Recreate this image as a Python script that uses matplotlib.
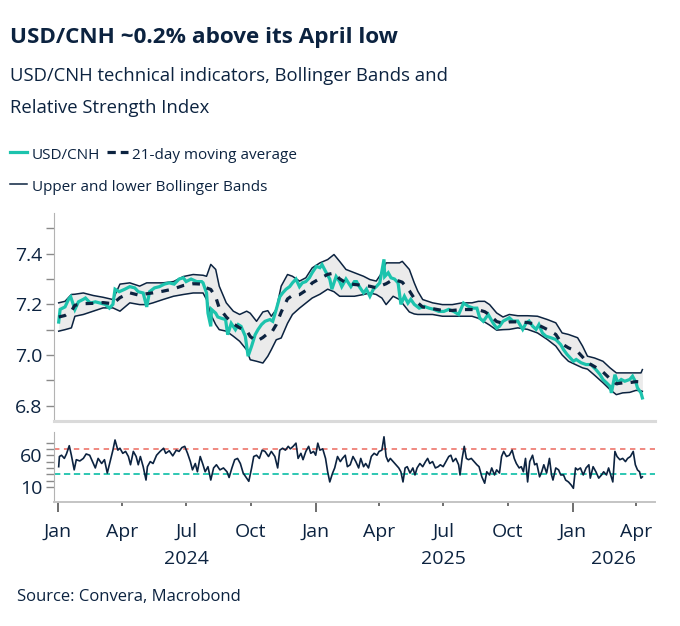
import matplotlib
matplotlib.use('Agg')
import matplotlib.pyplot as plt
import matplotlib.dates as mdates
import matplotlib.transforms as mtransforms
from matplotlib.lines import Line2D
import numpy as np
import pandas as pd

plt.rcParams['font.family'] = ['Open Sans', 'DejaVu Sans']

# ---- data ----
price_dates = [
    '2024-01-02', '2024-01-04', '2024-01-11', '2024-01-16', '2024-01-19', '2024-01-25', '2024-01-30',
    '2024-02-06', '2024-02-09', '2024-02-16', '2024-02-23', '2024-03-01', '2024-03-08', '2024-03-14',
    '2024-03-19', '2024-03-22', '2024-03-28', '2024-04-05', '2024-04-12', '2024-04-19', '2024-04-24',
    '2024-05-01', '2024-05-06', '2024-05-10', '2024-05-17', '2024-05-24', '2024-05-31', '2024-06-07',
    '2024-06-14', '2024-06-21', '2024-06-27', '2024-07-01', '2024-07-08', '2024-07-16', '2024-07-23',
    '2024-07-25', '2024-07-30', '2024-08-01', '2024-08-05', '2024-08-06', '2024-08-12', '2024-08-15',
    '2024-08-20', '2024-08-26', '2024-08-29', '2024-09-03', '2024-09-09', '2024-09-13', '2024-09-17',
    '2024-09-23', '2024-09-27', '2024-10-02', '2024-10-07', '2024-10-11', '2024-10-16', '2024-10-21',
    '2024-10-28', '2024-11-01', '2024-11-06', '2024-11-11', '2024-11-15', '2024-11-20', '2024-11-25',
    '2024-11-29', '2024-12-04', '2024-12-09', '2024-12-13', '2024-12-18', '2024-12-23', '2024-12-27',
    '2025-01-02', '2025-01-07', '2025-01-10', '2025-01-16', '2025-01-21', '2025-01-24', '2025-01-30',
    '2025-02-04', '2025-02-07', '2025-02-13', '2025-02-20', '2025-02-25', '2025-02-28', '2025-03-04',
    '2025-03-10', '2025-03-14', '2025-03-19', '2025-03-24', '2025-03-28', '2025-04-02', '2025-04-08',
    '2025-04-09', '2025-04-14', '2025-04-18', '2025-04-23', '2025-04-28', '2025-05-02', '2025-05-07',
    '2025-05-12', '2025-05-16', '2025-05-21', '2025-05-28', '2025-06-04', '2025-06-11', '2025-06-18',
    '2025-06-25', '2025-07-02', '2025-07-09', '2025-07-16', '2025-07-23', '2025-07-30', '2025-08-06',
    '2025-08-13', '2025-08-18', '2025-08-22', '2025-08-27', '2025-09-03', '2025-09-10', '2025-09-15',
    '2025-09-19', '2025-09-24', '2025-10-03', '2025-10-08', '2025-10-15', '2025-10-22', '2025-10-27',
    '2025-10-31', '2025-11-05', '2025-11-10', '2025-11-14', '2025-11-19', '2025-11-24', '2025-12-01',
    '2025-12-08', '2025-12-15', '2025-12-19', '2025-12-24', '2026-01-02', '2026-01-06', '2026-01-13',
    '2026-01-20', '2026-01-27', '2026-02-03', '2026-02-09', '2026-02-13', '2026-02-18', '2026-02-23',
    '2026-02-25', '2026-03-02', '2026-03-06', '2026-03-11', '2026-03-16', '2026-03-23', '2026-03-27',
    '2026-04-01', '2026-04-03', '2026-04-08', '2026-04-10',
]
usdcnh = [
    7.130, 7.180, 7.190, 7.220, 7.230, 7.180, 7.210,
    7.220, 7.225, 7.205, 7.210, 7.205, 7.200, 7.185,
    7.200, 7.260, 7.250, 7.260, 7.270, 7.265, 7.250,
    7.245, 7.190, 7.250, 7.265, 7.270, 7.280, 7.285,
    7.280, 7.300, 7.305, 7.290, 7.300, 7.290, 7.290,
    7.285, 7.245, 7.165, 7.113, 7.180, 7.165, 7.150,
    7.145, 7.140, 7.080, 7.125, 7.100, 7.120, 7.113,
    7.074, 6.995, 7.035, 7.080, 7.100, 7.120, 7.133,
    7.140, 7.133, 7.180, 7.230, 7.245, 7.260, 7.270,
    7.285, 7.300, 7.270, 7.285, 7.290, 7.305, 7.325,
    7.350, 7.345, 7.357, 7.325, 7.300, 7.260, 7.310,
    7.290, 7.270, 7.300, 7.270, 7.290, 7.290, 7.270,
    7.245, 7.260, 7.232, 7.260, 7.270, 7.285, 7.378,
    7.310, 7.325, 7.305, 7.300, 7.285, 7.200, 7.232,
    7.205, 7.220, 7.200, 7.185, 7.192, 7.185, 7.180,
    7.172, 7.172, 7.180, 7.172, 7.160, 7.205, 7.192,
    7.185, 7.185, 7.146, 7.133, 7.160, 7.126, 7.106,
    7.113, 7.133, 7.147, 7.134, 7.134, 7.101, 7.127,
    7.134, 7.114, 7.101, 7.120, 7.087, 7.074, 7.068,
    7.061, 7.041, 7.021, 7.002, 6.975, 6.982, 6.969,
    6.962, 6.962, 6.942, 6.922, 6.903, 6.890, 6.876,
    6.850, 6.922, 6.890, 6.903, 6.896, 6.903, 6.916,
    6.890, 6.870, 6.850, 6.830,
]

band_dates = [
    '2024-01-02', '2024-01-11', '2024-01-20', '2024-01-25', '2024-02-06', '2024-02-20', '2024-03-05',
    '2024-03-19', '2024-03-29', '2024-04-12', '2024-04-26', '2024-05-06', '2024-05-15', '2024-05-29',
    '2024-06-13', '2024-06-27', '2024-07-11', '2024-07-25', '2024-07-30', '2024-08-05', '2024-08-12',
    '2024-08-17', '2024-08-27', '2024-09-06', '2024-09-15', '2024-09-25', '2024-09-30', '2024-10-09',
    '2024-10-18', '2024-10-25', '2024-10-30', '2024-11-06', '2024-11-13', '2024-11-22', '2024-11-29',
    '2024-12-09', '2024-12-18', '2024-12-27', '2025-01-07', '2025-01-18', '2025-01-27', '2025-02-04',
    '2025-02-13', '2025-02-25', '2025-03-10', '2025-03-19', '2025-03-28', '2025-04-05', '2025-04-11',
    '2025-04-21', '2025-04-30', '2025-05-04', '2025-05-14', '2025-05-21', '2025-05-26', '2025-06-02',
    '2025-06-16', '2025-06-30', '2025-07-14', '2025-07-28', '2025-08-11', '2025-08-20', '2025-08-29',
    '2025-09-05', '2025-09-15', '2025-09-24', '2025-10-03', '2025-10-15', '2025-10-29', '2025-11-12',
    '2025-11-26', '2025-12-08', '2025-12-17', '2025-12-26', '2026-01-08', '2026-01-15', '2026-01-22',
    '2026-02-01', '2026-02-13', '2026-02-23', '2026-03-04', '2026-03-13', '2026-03-23', '2026-04-01',
    '2026-04-08', '2026-04-10',
]
upper_band = [
    7.206, 7.212, 7.239, 7.240, 7.245, 7.235, 7.228,
    7.219, 7.280, 7.285, 7.272, 7.285, 7.285, 7.285,
    7.290, 7.310, 7.318, 7.315, 7.311, 7.358, 7.338,
    7.272, 7.206, 7.173, 7.160, 7.173, 7.165, 7.133,
    7.170, 7.175, 7.153, 7.180, 7.272, 7.318, 7.311,
    7.292, 7.305, 7.344, 7.364, 7.377, 7.397, 7.370,
    7.338, 7.325, 7.311, 7.298, 7.292, 7.325, 7.364,
    7.364, 7.364, 7.370, 7.338, 7.285, 7.252, 7.219,
    7.206, 7.199, 7.199, 7.206, 7.206, 7.212, 7.212,
    7.199, 7.166, 7.150, 7.160, 7.155, 7.155, 7.153,
    7.140, 7.127, 7.087, 7.081, 7.068, 7.035, 6.995,
    6.988, 6.975, 6.949, 6.929, 6.929, 6.929, 6.929,
    6.929, 6.942,
]
lower_band = [
    7.094, 7.100, 7.107, 7.153, 7.160, 7.173, 7.186,
    7.186, 7.173, 7.206, 7.199, 7.199, 7.206, 7.219,
    7.232, 7.239, 7.245, 7.245, 7.219, 7.160, 7.120,
    7.100, 7.094, 7.074, 7.054, 7.020, 6.981, 6.975,
    6.968, 6.995, 7.021, 7.060, 7.067, 7.125, 7.160,
    7.185, 7.205, 7.225, 7.240, 7.260, 7.250, 7.232,
    7.232, 7.232, 7.239, 7.245, 7.239, 7.225, 7.199,
    7.232, 7.219, 7.205, 7.170, 7.162, 7.160, 7.160,
    7.160, 7.153, 7.153, 7.153, 7.153, 7.145, 7.130,
    7.118, 7.098, 7.100, 7.101, 7.107, 7.101, 7.087,
    7.061, 7.035, 7.000, 6.975, 6.958, 6.949, 6.944,
    6.920, 6.890, 6.863, 6.843, 6.850, 6.852, 6.860,
    6.858, 6.856,
]

# RSI observations: days since 2024-01-01
rsi_days = [
    1, 2, 5, 9, 12, 16, 19, 23, 26, 31,
    36, 40, 45, 49, 53, 57, 62, 66, 70, 74,
    78, 81, 85, 88, 92, 96, 100, 103, 107, 111,
    114, 117, 121, 125, 127, 131, 135, 140, 145, 150,
    153, 158, 163, 168, 172, 176, 180, 184, 188, 191,
    195, 198, 202, 206, 209, 213, 217, 221, 225, 230,
    235, 240, 243, 247, 251, 255, 259, 263, 268, 271,
    275, 278, 282, 286, 290, 294, 299, 303, 308, 312,
    315, 319, 323, 327, 330, 334, 338, 341, 345, 348,
    352, 356, 359, 363, 366, 369, 372, 376, 380, 383,
    386, 390, 393, 397, 401, 404, 408, 411,
    415, 419, 423, 427, 430, 434, 437, 441, 445, 449,
    453, 456, 460, 463, 466, 469, 472, 476, 480, 484,
    487, 490, 493, 496, 500, 504, 507, 510, 514, 518,
    522, 525, 528, 532, 536, 540, 543, 547, 551, 555,
    558, 561, 565, 569, 571, 574, 577, 580, 583, 587,
    591, 595, 598, 602, 606, 609, 613, 616, 620, 623,
    627, 630, 633, 637, 641, 645, 648, 651, 655, 658,
    661, 664, 667, 670, 674, 677, 680, 684, 687, 690,
    694, 698, 701, 703, 707, 711, 714, 718, 721, 725,
    729, 732, 735, 738, 742, 746, 750, 754, 756, 760,
    764, 768, 772, 775, 779, 782, 785, 788, 791, 794,
    798, 802, 806, 809, 813, 817, 820, 823, 826, 828,
    830,
]
rsi = [
    42, 58, 60, 55, 62, 75, 60, 37, 53, 51,
    55, 62, 60, 50, 40, 55, 47, 53, 32, 50,
    68, 84, 68, 71, 63, 66, 58, 45, 66, 58,
    45, 58, 42, 21, 42, 50, 47, 60, 66, 71,
    63, 67, 59, 68, 66, 72, 74, 63, 50, 37,
    47, 34, 58, 45, 34, 42, 21, 40, 45, 37,
    40, 34, 25, 40, 53, 55, 47, 32, 24, 19,
    40, 58, 60, 55, 68, 66, 58, 66, 58, 40,
    68, 71, 68, 74, 70, 74, 79, 55, 63, 53,
    66, 74, 63, 66, 60, 79, 68, 70, 55, 34,
    18, 32, 40, 58, 50, 55, 60, 42,
    45, 58, 50, 40, 55, 42, 47, 40, 58, 63,
    60, 66, 68, 89, 58, 50, 55, 50, 45, 40,
    34, 18, 40, 42, 32, 40, 29, 40, 47, 42,
    50, 55, 47, 50, 40, 42, 45, 42, 50, 58,
    60, 50, 55, 45, 29, 55, 74, 55, 53, 55,
    50, 45, 42, 26, 16, 34, 29, 40, 29, 37,
    32, 58, 66, 58, 60, 68, 55, 47, 40, 42,
    34, 55, 18, 50, 60, 45, 47, 26, 34, 45,
    32, 55, 29, 21, 40, 37, 29, 29, 21, 18,
    13, 8, 40, 37, 40, 29, 40, 45, 24, 42,
    34, 24, 29, 34, 29, 40, 29, 18, 66, 58,
    53, 55, 50, 55, 58, 66, 45, 37, 34, 24,
    26,
]
rsi_overbought = 70
rsi_oversold = 30

# ---- styling ----
navy = '#0c2340'
teal = '#1cc3ad'
band_fill = '#ebebeb'
spine_grey = '#b3b3b3'
W, H = 680, 626


def fx(x):
    return x / W


def fy(y):
    return 1 - y / H


price_dates = pd.to_datetime(price_dates)
band_dates = pd.to_datetime(band_dates)
upper_band = np.array(upper_band)
lower_band = np.array(lower_band)
moving_avg = (upper_band + lower_band) / 2
rsi_dates = pd.Timestamp('2024-01-01') + pd.to_timedelta(rsi_days, unit='D')

fig = plt.figure(figsize=(W / 100, H / 100), dpi=100)
ax1 = fig.add_axes([fx(54.3), fy(420.7), fx(655) - fx(54.3), fy(213.3) - fy(420.7)])
ax2 = fig.add_axes([fx(54.3), fy(502.3), fx(655) - fx(54.3), fy(431.7) - fy(502.3)])

x_left = pd.Timestamp('2023-12-26 18:00')
x_right = pd.Timestamp('2026-04-27 22:00')

# top panel: price + Bollinger bands
ax1.fill_between(band_dates, lower_band, upper_band, color=band_fill, lw=0, zorder=1)
ax1.plot(band_dates, upper_band, color=navy, lw=1.1, zorder=2)
ax1.plot(band_dates, lower_band, color=navy, lw=1.1, zorder=2)
ax1.plot(price_dates, usdcnh, color=teal, lw=2.3, zorder=3, solid_joinstyle='miter')
ax1.plot(band_dates, moving_avg, color=navy, lw=2.3, dashes=(2.4, 2.6), zorder=4)

ax1.set_xlim(x_left, x_right)
ax1.set_ylim(6.74, 7.56)
ax1.set_yticks([6.8, 7.0, 7.2, 7.4])
ax1.set_yticks([6.9, 7.1, 7.3, 7.5], minor=True)
ax1.set_yticklabels(['6.8', '7.0', '7.2', '7.4'])
ax1.tick_params(axis='y', which='both', length=5.5, width=1, color='#8a8a8a',
                labelsize=14, labelcolor=navy, pad=3)
ax1.set_xticks([])
for s in ['top', 'right']:
    ax1.spines[s].set_visible(False)
ax1.spines['left'].set_color(spine_grey)
ax1.spines['bottom'].set_color('#dadada')
ax1.spines['bottom'].set_linewidth(2.2)

# bottom panel: RSI
ax2.plot(rsi_dates, rsi, color=navy, lw=1.2, zorder=3)
ax2.axhline(rsi_overbought, color='#ef7f76', lw=1.3, dashes=(3, 2.5), zorder=2)
ax2.axhline(rsi_oversold, color='#1cc3ad', lw=1.3, dashes=(3.5, 2), zorder=2)
ax2.set_xlim(x_left, x_right)
ax2.set_ylim(-14, 97)
ax2.set_yticks([10, 60])
ax2.set_yticks(np.arange(10, 90, 10), minor=True)
ax2.tick_params(axis='y', which='both', length=5.5, width=1, color='#8a8a8a',
                labelsize=14, labelcolor=navy, pad=3)
for s in ['top', 'right']:
    ax2.spines[s].set_visible(False)
ax2.spines['left'].set_color(spine_grey)
ax2.spines['bottom'].set_color('#c4c4c4')
ax2.spines['bottom'].set_linewidth(1.4)

quarters = pd.date_range('2024-01-01', '2026-04-01', freq='QS')
ax2.set_xticks(quarters)
ax2.set_xticklabels([d.strftime('%b') for d in quarters])
ax2.tick_params(axis='x', length=3, width=1.2, color='#555555', labelsize=14,
                labelcolor=navy, pad=12)
for t, d in zip(ax2.xaxis.get_major_ticks(), quarters):
    if d.month == 1:
        t.tick1line.set_markersize(7)

yr = mtransforms.blended_transform_factory(ax2.transData, fig.transFigure)
ax2.text(pd.Timestamp('2024-07-01'), fy(559), '2024', transform=yr, ha='center', va='center',
         fontsize=14, color=navy)
ax2.text(pd.Timestamp('2025-07-01'), fy(559), '2025', transform=yr, ha='center', va='center',
         fontsize=14, color=navy)
mid26 = pd.Timestamp('2026-01-01') + (x_right - pd.Timestamp('2026-01-01')) / 2
ax2.text(mid26, fy(559), '2026', transform=yr, ha='center', va='center',
         fontsize=14, color=navy)

# titles
fig.text(fx(10), fy(43), 'USD/CNH ~0.2% above its April low', fontsize=16.2, fontweight='bold',
         color=navy, va='baseline')
fig.text(fx(10), fy(81), 'USD/CNH technical indicators, Bollinger Bands and', fontsize=13.3,
         color=navy, va='baseline')
fig.text(fx(10), fy(113), 'Relative Strength Index', fontsize=13.3, color=navy, va='baseline')

# legend
fig.add_artist(Line2D([fx(10), fx(27.3)], [fy(152), fy(152)], color=teal, lw=2.3,
                      transform=fig.transFigure))
fig.text(fx(31.7), fy(159), 'USD/CNH', fontsize=11, color=navy, va='baseline')
fig.add_artist(Line2D([fx(106.7), fx(128.3)], [fy(152), fy(152)], color=navy, lw=2.3,
                      dashes=(2.6, 1.55), transform=fig.transFigure))
fig.text(fx(131.7), fy(159), '21-day moving average', fontsize=11, color=navy, va='baseline')
fig.add_artist(Line2D([fx(10), fx(27.3)], [fy(184), fy(184)], color=navy, lw=1.1,
                      transform=fig.transFigure))
fig.text(fx(31.7), fy(191), 'Upper and lower Bollinger Bands', fontsize=11, color=navy,
         va='baseline')

fig.text(fx(17), fy(597), 'Source: Convera, Macrobond', fontsize=12, color=navy, va='center')

fig.savefig('out.png', dpi=100)
